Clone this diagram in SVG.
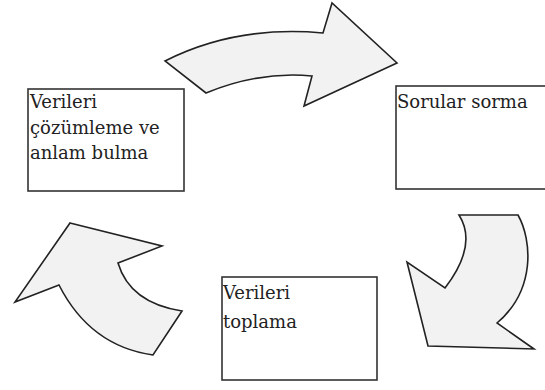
<svg xmlns="http://www.w3.org/2000/svg" width="545" height="390" viewBox="0 0 545 390">
<style>
.arrow{fill:#f2f2f2;stroke:#222;stroke-width:1.6;stroke-linejoin:miter}
.box{fill:#fff;stroke:#333;stroke-width:1.6}
.lbl{font-family:"DejaVu Serif",serif;font-size:18px;fill:#222}
</style>
<rect width="545" height="390" fill="#fff"/>
<g id="connectors">
<path class="arrow" d="M165,61 Q236,25 323,33 L332,3 L397,63 L304,106 L312,76 Q259,71 206,93 Z"/>
<path class="arrow" d="M459,215 L518,215 C532,240 536,290 497,323 L534,349 L428,346 L407,262 L445,288 Q478,245 459,215 Z"/>
<path class="arrow" d="M70,223 L162,246 L118,263 Q130,303 182,311 L153,355 Q90,346 59,285 L15,302 Z"/>
</g>
<g id="node-analyze">
<rect class="box" x="28" y="89" width="156" height="102"/>
<text class="lbl" x="30" y="108">Verileri</text>
<text class="lbl" x="30" y="134">çözümleme ve</text>
<text class="lbl" x="30" y="159">anlam bulma</text>
</g>
<g id="node-ask">
<rect class="box" x="396" y="86" width="155" height="103"/>
<text class="lbl" x="397" y="108">Sorular sorma</text>
</g>
<g id="node-collect">
<rect class="box" x="222" y="277" width="155" height="103"/>
<text class="lbl" x="223" y="299">Verileri</text>
<text class="lbl" x="223" y="328">toplama</text>
</g>
</svg>
